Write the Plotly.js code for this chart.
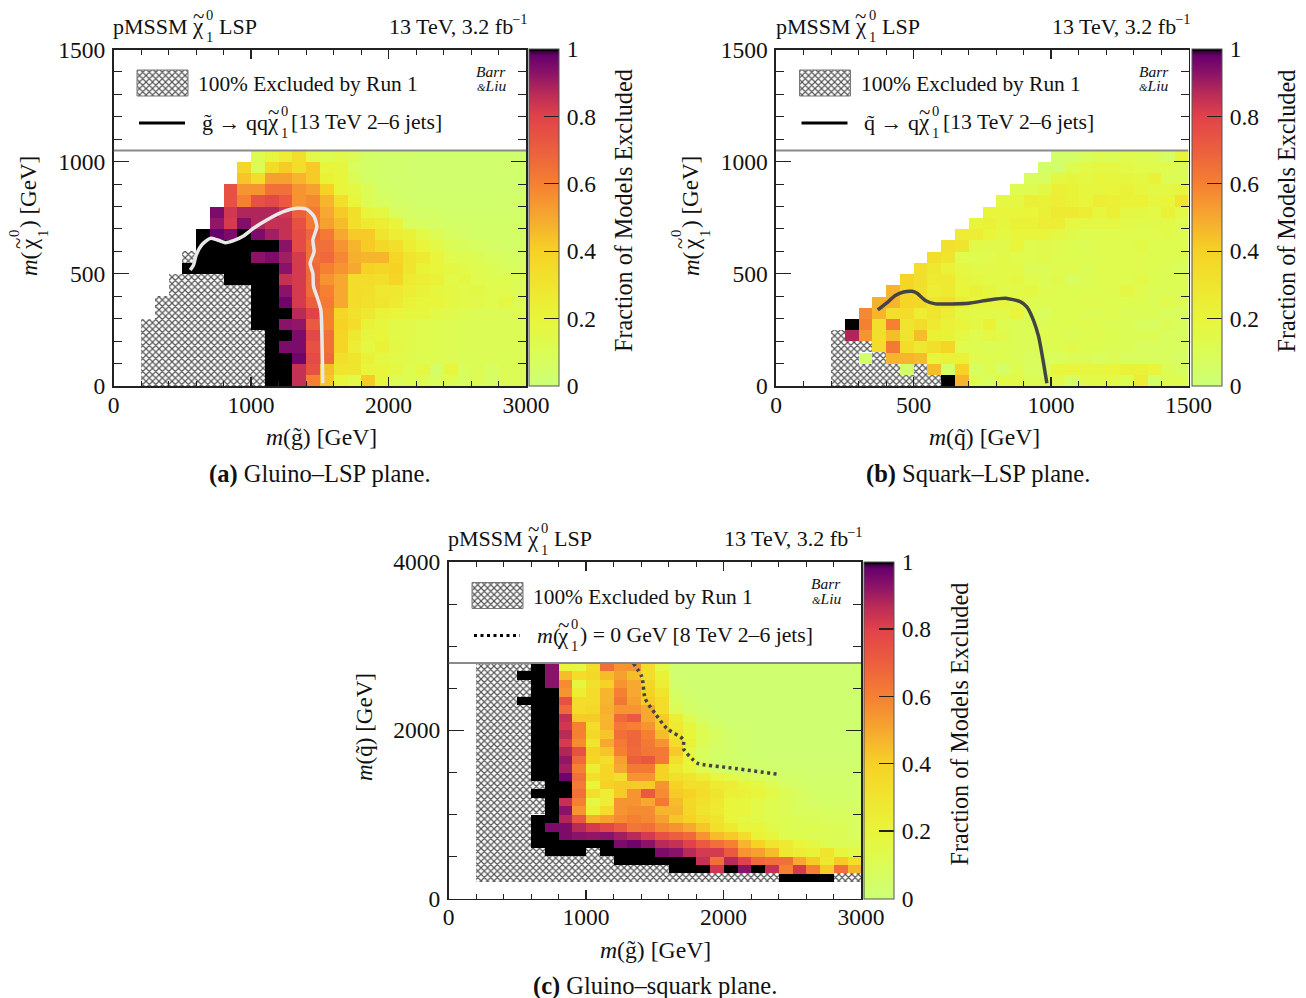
<!DOCTYPE html>
<html><head><meta charset="utf-8">
<script src="https://cdn.plot.ly/plotly-3.0.1.min.js"></script>
<style>html,body{margin:0;padding:0;background:#fff}</style></head>
<body><div id="chart" style="width:1306px;height:998px"></div>
<script>
const _ = null, X = -1;
const gluinoLspRows = [
[_,_,_,_,_,_,_,_,_,_,12,18,25,33,15,12,14,10,5,4,4,4,3,3,3,3,3,3,3,3],
[_,_,_,_,_,_,_,_,_,37,10,36,42,35,42,20,18,8,5,4,4,3,3,3,3,3,3,3,3,3],
[_,_,_,_,_,_,_,_,_,43,35,52,52,47,42,22,20,10,5,4,3,3,3,3,3,3,3,3,3,3],
[_,_,_,_,_,_,_,_,75,55,55,65,65,55,52,40,20,16,10,5,4,3,3,3,3,3,3,3,3,3],
[_,_,_,_,_,_,_,_,75,60,75,78,72,55,58,47,33,20,10,7,5,4,3,3,3,3,3,3,4,4],
[_,_,_,_,_,_,_,95,83,88,88,88,83,70,62,50,42,33,20,17,8,6,5,5,4,4,4,4,4,4],
[_,_,_,_,_,_,_,92,82,94,88,85,85,75,62,52,45,33,27,25,20,8,7,6,5,5,5,5,5,5],
[_,_,_,_,_,_,100,98,95,100,95,90,85,77,68,62,50,42,42,30,25,22,15,10,7,6,5,5,5,5],
[_,_,_,_,_,_,100,100,100,100,100,100,93,77,65,65,55,47,42,37,33,25,20,15,10,9,7,6,5,5],
[_,_,_,_,_,X,100,100,100,100,93,95,90,82,65,67,58,48,47,47,38,30,27,20,13,12,10,8,7,6],
[_,_,_,_,_,100,100,100,100,100,100,100,93,82,67,60,55,50,40,38,40,30,22,20,17,15,12,10,8,8],
[_,_,_,_,X,X,X,X,100,100,100,100,85,82,67,55,50,35,35,33,38,27,25,22,15,17,13,12,12,10],
[_,_,_,_,X,X,X,X,X,X,100,100,93,82,67,60,50,35,33,28,28,25,22,18,17,14,16,13,13,10],
[_,_,_,X,X,X,X,X,X,X,100,100,97,82,70,62,50,35,32,30,27,22,20,20,17,15,14,13,17,10],
[_,_,_,X,X,X,X,X,X,X,100,100,100,87,80,60,38,32,28,22,20,18,18,15,14,12,10,10,10,13],
[_,_,X,X,X,X,X,X,X,X,100,100,93,92,72,60,40,35,22,18,15,14,13,12,11,10,10,10,10,10],
[_,_,X,X,X,X,X,X,X,X,X,100,100,95,78,65,38,28,18,20,15,14,13,12,11,10,10,10,10,10],
[_,_,X,X,X,X,X,X,X,X,X,100,95,95,75,65,38,25,17,22,16,14,13,12,11,10,10,10,10,10],
[_,_,X,X,X,X,X,X,X,X,X,100,100,97,77,67,33,30,22,17,15,14,12,12,11,10,10,10,10,10],
[_,_,X,X,X,X,X,X,X,X,X,100,100,85,75,45,30,30,20,20,17,12,17,5,19,8,10,7,10,10],
[_,_,X,X,X,X,X,X,X,X,X,100,100,85,60,43,20,15,42,18,10,12,10,8,12,7,10,6,10,10]
];
const squarkLspRows = [
[_,_,_,_,_,_,_,_,_,_,_,_,_,_,_,_,_,_,_,_,5,5,8,12,10,13,12,10,6,20],
[_,_,_,_,_,_,_,_,_,_,_,_,_,_,_,_,_,_,_,4,4,12,15,17,17,15,13,13,13,10],
[_,_,_,_,_,_,_,_,_,_,_,_,_,_,_,_,_,_,8,7,17,18,17,20,18,18,17,22,10,10],
[_,_,_,_,_,_,_,_,_,_,_,_,_,_,_,_,_,12,12,16,24,22,18,18,20,22,18,16,16,18],
[_,_,_,_,_,_,_,_,_,_,_,_,_,_,_,_,17,17,24,22,25,22,20,25,24,22,22,18,20,30],
[_,_,_,_,_,_,_,_,_,_,_,_,_,_,_,20,20,20,20,23,27,27,25,18,23,17,17,15,22,15],
[_,_,_,_,_,_,_,_,_,_,_,_,_,_,20,22,18,22,22,25,25,17,17,16,17,15,14,14,15,12],
[_,_,_,_,_,_,_,_,_,_,_,_,_,25,25,20,17,20,19,20,17,14,12,13,13,13,13,13,14,12],
[_,_,_,_,_,_,_,_,_,_,_,_,32,30,15,14,14,20,13,14,13,12,10,13,13,13,15,12,12,12],
[_,_,_,_,_,_,_,_,_,_,_,33,30,13,12,13,15,13,13,14,12,12,12,12,13,13,13,12,12,12],
[_,_,_,_,_,_,_,_,_,_,33,28,22,17,15,15,15,15,10,10,13,13,10,13,13,13,13,12,10,8],
[_,_,_,_,_,_,_,_,_,38,33,27,27,18,17,15,15,17,13,10,14,7,10,12,13,12,15,12,10,10],
[_,_,_,_,_,_,_,_,47,38,33,25,27,20,22,18,14,15,17,13,12,12,12,12,13,17,13,10,10,10],
[_,_,_,_,_,_,_,48,47,38,37,30,32,25,18,18,18,17,12,12,12,12,13,13,12,12,12,10,13,10],
[_,_,_,_,_,_,58,47,33,35,25,30,25,17,15,15,15,20,10,8,12,12,10,10,13,10,10,10,8,8],
[_,_,_,_,_,100,60,33,60,30,35,27,22,20,16,22,12,10,10,10,12,12,13,12,10,10,8,7,10,8],
[_,_,_,_,X,88,55,33,45,30,45,23,22,17,13,17,14,10,10,13,12,10,12,13,12,10,10,10,8,7],
[_,_,_,_,X,X,X,35,62,35,28,33,38,13,12,10,12,10,10,10,12,14,12,12,10,10,8,8,8,8],
[_,_,_,_,X,X,4,X,47,47,45,20,22,22,13,12,12,10,8,8,8,10,10,8,10,8,8,8,8,6],
[_,_,_,_,X,X,X,X,X,4,X,45,5,40,7,12,5,12,8,7,20,20,18,18,20,22,22,20,10,7],
[_,_,_,_,X,X,X,X,X,X,X,X,100,47,12,7,15,15,10,10,14,5,14,15,15,12,25,5,12,12]
];
const gluinoSquarkRows = [
[_,_,X,X,X,X,100,93,20,17,35,65,55,55,35,15,2,2,2,2,2,2,2,2,2,2,2,2,2,2],
[_,_,X,X,X,100,100,93,45,35,37,45,52,45,35,22,2,2,2,2,2,2,2,2,2,2,2,2,2,2],
[_,_,X,X,X,X,100,93,57,18,32,40,55,50,38,25,3,2,2,2,2,2,2,2,2,2,2,2,2,2],
[_,_,X,X,X,X,100,100,55,25,35,47,60,50,40,30,5,3,2,2,2,2,2,2,2,2,2,2,2,2],
[_,_,X,X,X,100,100,100,75,35,35,47,63,52,42,35,7,4,2,2,2,2,2,2,2,2,2,2,2,2],
[_,_,X,X,X,X,100,100,67,35,37,48,55,55,50,35,10,5,3,2,2,2,2,2,2,2,2,2,2,2],
[_,_,X,X,X,X,100,100,85,42,42,47,67,72,50,42,25,12,5,3,2,2,2,2,2,2,2,2,2,2],
[_,_,X,X,X,X,100,100,83,60,35,47,62,60,55,42,27,18,10,5,3,2,2,2,2,2,2,2,2,2],
[_,_,X,X,X,X,100,100,87,60,37,43,65,68,60,45,30,20,12,7,4,3,2,2,2,2,2,2,2,2],
[_,_,X,X,X,X,100,100,82,57,30,50,62,68,62,55,35,22,10,6,4,3,2,2,2,2,2,2,2,2],
[_,_,X,X,X,X,100,100,88,75,40,43,60,67,63,62,42,17,8,5,4,3,2,2,2,2,2,2,2,2],
[_,_,X,X,X,X,100,100,92,67,38,33,52,70,73,62,33,20,8,5,4,3,3,2,2,2,2,2,2,2],
[_,_,X,X,X,X,100,100,90,60,25,38,50,62,62,40,27,20,12,6,5,4,4,3,3,3,3,3,3,3],
[_,_,X,X,X,X,100,100,97,65,33,38,33,55,55,40,33,30,25,18,15,10,8,6,4,4,3,3,3,3],
[_,_,X,X,X,X,X,100,100,62,20,40,42,42,42,55,40,33,33,27,25,20,17,12,7,5,4,4,4,4],
[_,_,X,X,X,X,100,100,100,65,33,25,42,55,72,57,42,40,35,30,23,22,20,15,10,8,5,5,5,4],
[_,_,X,X,X,X,X,100,85,60,17,25,55,55,50,62,45,37,32,28,20,18,15,12,10,7,6,5,5,5],
[_,_,X,X,X,X,X,100,93,55,22,35,55,57,57,47,47,37,30,27,20,20,15,12,10,8,8,7,7,6],
[_,_,X,X,X,X,100,100,88,73,48,52,57,60,58,52,43,40,35,30,20,17,15,12,12,10,9,8,8,7],
[_,_,X,X,X,X,100,95,95,87,82,78,72,63,65,58,55,50,43,33,27,20,20,15,12,10,12,10,10,8],
[_,_,X,X,X,X,100,100,95,93,92,93,90,87,82,75,70,67,55,45,42,35,22,18,12,12,10,10,10,8],
[_,_,X,X,X,X,100,100,100,100,100,100,95,97,93,87,85,80,72,65,60,47,40,30,27,20,17,12,10,10],
[_,_,X,X,X,X,X,100,100,100,X,100,100,100,100,95,93,87,82,82,72,55,52,45,28,25,22,30,18,15],
[_,_,X,X,X,X,X,X,X,X,X,X,100,100,100,100,100,100,85,65,87,80,67,65,65,50,42,28,42,33],
[_,_,X,X,X,X,X,X,X,X,X,X,X,X,X,X,100,100,100,83,100,93,100,85,60,82,60,42,65,47],
[_,_,X,X,X,X,X,X,X,X,X,X,X,X,X,X,X,X,X,X,X,X,X,X,100,100,100,100,X,X],
[_,_,_,_,_,_,_,_,_,_,_,_,_,_,_,_,_,_,_,_,_,_,_,_,_,_,_,_,_,_],
[_,_,_,_,_,_,_,_,_,_,_,_,_,_,_,_,_,_,_,_,_,_,_,_,_,_,_,_,_,_]
];
// reference curves, in GeV
const curveAx = [1522,1518,1508,1484,1455,1450,1430,1459,1450,1479,1459,1406,1333,1236,1115,1018,945,873,812,756,703,642,601,582,558];
const curveAy = [12,160,339,391,443,502,547,599,651,710,755,788,792,777,740,703,669,648,639,651,658,629,584,539,517];
const curveBx = [985,973,955,936,912,888,834,773,701,640,579,543,513,495,464,434,404,370];
const curveBy = [12,101,220,294,353,376,391,383,369,366,366,381,413,422,419,403,372,339];
const curveCx = [1345,1406,1430,1503,1588,1709,1709,1782,1818,2036,2400];
const curveCy = [2797,2635,2377,2198,2020,1889,1782,1643,1603,1556,1476];

const colorscale = [[0,'#ccff77'],[0.1,'#dcfc55'],[0.2,'#e8f53a'],[0.3,'#f0e52e'],[0.4,'#f6d225'],[0.5,'#f6a830'],
 [0.6,'#f58032'],[0.7,'#ec5f3e'],[0.8,'#e1424a'],[0.87,'#b82a58'],[0.93,'#8a1268'],[0.98,'#68006c'],[0.992,'#3a0040'],[0.995,'#000000'],[1,'#000000']];
const SERIF = '"Liberation Serif", serif', W = 1306, H = 998, TICK = 23.5;
const hatch = {shape:'x', size:4.6, solidity:0.45, fgcolor:'#555555', bgcolor:'#ffffff'};
const traces = [], annotations = [], shapes = [], layout = {};

function T(x, y, text, size, anchor, angle){
  annotations.push({xref:'paper', yref:'paper', x:x/W, y:1-y/H, text, showarrow:false, borderpad:0, borderwidth:0,
    xanchor:anchor||'left', yanchor:'middle', textangle:angle||0, font:{family:SERIF, size:size||22, color:'#111'}});
}
// chi with a tilde above and stacked 0/1 indices; x is the centre of the letter
function chi(x, y, rotated){
  if(rotated){
    T(x, y, 'χ', 23, 'center', -90);
    T(x-11, y, '~', 21, 'center', -90);
    T(x-15, y-10, '0', 14.5, 'center', -90);
    T(x+14, y-10, '1', 14.5, 'center', -90);
  } else {
    T(x, y+1, 'χ', 23, 'center');
    T(x, y-10, '~', 21, 'center');
    T(x+8, y-11, '0', 14.5);
    T(x+8, y+11, '1', 14.5);
  }
}
function panel(n, rows, cellX, cellY, xMax, yMax, yTop, dx, dy, ax, curve, texts){
  const xa = 'xaxis'+(n>1?n:''), ya = 'yaxis'+(n>1?n:''), xr = 'x'+(n>1?n:''), yr = 'y'+(n>1?n:'');
  const bottomUp = rows.slice().reverse();
  const xs = bottomUp[0].map((v,i)=>(i+0.5)*cellX), ys = bottomUp.map((r,j)=>(j+0.5)*cellY);
  const z = bottomUp.map(r=>r.map(v=>(v===null||v===X)?null:v/100));
  const L = 113.5+dx, R = 526+dx, TP = 49.5+dy, B = 386+dy;
  traces.push({type:'heatmap', x:xs, y:ys, z, xaxis:xr, yaxis:yr, zmin:0, zmax:1, colorscale, hoverongaps:false,
    colorbar:{x:(529+dx)/W, xanchor:'left', xpad:0, ypad:0, y:1-B/H, yanchor:'bottom', len:(B-TP)/H, lenmode:'fraction', thickness:29.5, thicknessmode:'pixels',
      tick0:0, dtick:0.2, ticks:'inside', ticklen:15, tickwidth:1.2, tickcolor:'#222', outlinewidth:1, outlinecolor:'#555',
      tickprefix:'\u200a', tickfont:{family:SERIF, size:TICK, color:'#111'}}});
  // hatched region built from the X cells, merged per column
  const bx=[], bb=[], bh=[];
  xs.forEach((cx,i)=>{ let j=0; while(j<bottomUp.length){ if(bottomUp[j][i]===X){ let s=j; while(j<bottomUp.length&&bottomUp[j][i]===X) j++;
      bx.push(cx); bb.push(s*cellY); bh.push((j-s)*cellY);} else j++; }});
  traces.push({type:'bar', x:bx, y:bh, base:bb, width:bx.map(()=>cellX), xaxis:xr, yaxis:yr, hoverinfo:'skip', showlegend:false,
    marker:{color:'#fff', line:{width:0}, pattern:hatch}});
  // legend swatch
  const sx=p=>(p-L)/(R-L)*xMax, sy=p=>(B-p)/(B-TP)*yMax;
  traces.push({type:'bar', x:[sx(162.5+dx)], y:[sy(70+dy)-sy(96+dy)], base:[sy(96+dy)], width:[sx(188+dx)-sx(137+dx)], xaxis:xr, yaxis:yr, hoverinfo:'skip', showlegend:false,
    marker:{color:'#fff', line:{width:1, color:'#777'}, pattern:hatch}});
  traces.push({type:'scatter', mode:'lines', x:[sx(139+dx),sx(185+dx)], y:[sy(123+dy),sy(123+dy)], xaxis:xr, yaxis:yr, hoverinfo:'skip', showlegend:false,
    line:{color:'#000', width:3, dash:curve.dash||'solid'}});
  traces.push({type:'scatter', mode:'lines', x:curve.x, y:curve.y, xaxis:xr, yaxis:yr, showlegend:false, hoverinfo:'skip',
    line:{color:curve.color, width:curve.width, shape:'spline', smoothing:0.6, dash:curve.dash||'solid'}});
  shapes.push({type:'line', xref:xr, yref:yr, x0:0, x1:xMax, y0:yTop, y1:yTop, line:{color:'#8a8a8a', width:2}});
  const base = {mirror:'allticks', showline:true, linecolor:'#222', linewidth:1.6, ticks:'inside', tickcolor:'#222', tickwidth:1.2,
     showgrid:false, zeroline:false, tickfont:{family:SERIF, size:TICK, color:'#111'}};
  layout[xa] = Object.assign({}, base, {domain:[L/W,R/W], range:[0,xMax], anchor:yr, dtick:ax.xMajor, tick0:0, ticklen:9,
     ticklabelstandoff:-3, minor:{dtick:ax.xMinor, ticks:'inside', ticklen:5, tickcolor:'#222', tickwidth:1}});
  layout[ya] = Object.assign({}, base, {domain:[1-B/H,1-TP/H], range:[0,yMax], anchor:xr, dtick:ax.yMajor, tick0:0, ticklen:15,
     ticklabelstandoff:2, minor:{dtick:ax.yMinor, ticks:'inside', ticklen:8, tickcolor:'#222', tickwidth:1}});
  // header
  T(113+dx, 26+dy, 'pMSSM', 22);
  chi(198+dx, 26+dy);
  T(219+dx, 26+dy, 'LSP', 22);
  T(389+dx, 26+dy, '13 TeV, 3.2 fb', 22);
  T(512+dx, 19+dy, '−1', 14.5);
  // legend
  T(198+dx, 84+dy, '100% Excluded by Run 1', 21.4);
  T(491+dx, 71+dy, '<i>Barr</i>', 15.5, 'center');
  T(491+dx, 86+dy, '<i><span style="font-size:11px">&amp;</span>Liu</i>', 15.5, 'center');
  texts(dx, dy);
  // colorbar title
  T(624+dx, 211+dy, 'Fraction of Models Excluded', 24.2, 'center', -90);
}
function yTitleChi(x){
  T(x, 264, '<i>m</i>(', 23, 'center', -90);
  chi(x, 244, true);
  T(x, 192, ') [GeV]', 23, 'center', -90);
}

panel(1, gluinoLspRows, 100, 50, 3000, 1500, 1050, 0, 0, {xMajor:1000,xMinor:200,yMajor:500,yMinor:100},
  {x:curveAx, y:curveAy, color:'#e8e8e8', width:3.5}, (dx,dy)=>{
    T(202, 122, 'g̃ → qq', 22);
    chi(273, 122);
    T(291, 122, '[13 TeV 2–6 jets]', 21.7);
    T(321, 437, '<i>m</i>(g̃) [GeV]', 23.7, 'center');
    T(320, 474, '<b>(a)</b> Gluino–LSP plane.', 24.5, 'center');
    yTitleChi(29);
  });
panel(2, squarkLspRows, 50, 50, 1500, 1500, 1050, 662.5, 0, {xMajor:500,xMinor:100,yMajor:500,yMinor:100},
  {x:curveBx, y:curveBy, color:'#444', width:3.5}, (dx,dy)=>{
    T(864, 122, 'q̃ → q', 22);
    chi(924, 122);
    T(943, 122, '[13 TeV 2–6 jets]', 21.7);
    T(984, 437, '<i>m</i>(q̃) [GeV]', 23.7, 'center');
    T(978, 474, '<b>(b)</b> Squark–LSP plane.', 24.5, 'center');
    yTitleChi(691);
  });
panel(3, gluinoSquarkRows, 100, 100, 3000, 4000, 2800, 335, 512.5, {xMajor:1000,xMinor:200,yMajor:2000,yMinor:500},
  {x:curveCx, y:curveCy, color:'#444', width:3.5, dash:'3px,3.5px'}, (dx,dy)=>{
    T(537, 635, '<i>m</i>(', 22);
    chi(563, 635);
    T(580, 635, ') = 0 GeV [8 TeV 2–6 jets]', 21.7);
    T(656, 950, '<i>m</i>(g̃) [GeV]', 23.7, 'center');
    T(655, 986, '<b>(c)</b> Gluino–squark plane.', 24.5, 'center');
    T(364, 727, '<i>m</i>(q̃) [GeV]', 23, 'center', -90);
  });

Object.assign(layout, {width:W, height:H, margin:{l:0,r:0,t:0,b:0,pad:0}, paper_bgcolor:'#fff', plot_bgcolor:'#fff',
  barmode:'overlay', bargap:0, showlegend:false, annotations, shapes});
Plotly.newPlot('chart', traces, layout, {displayModeBar:false, staticPlot:true});
</script></body></html>
